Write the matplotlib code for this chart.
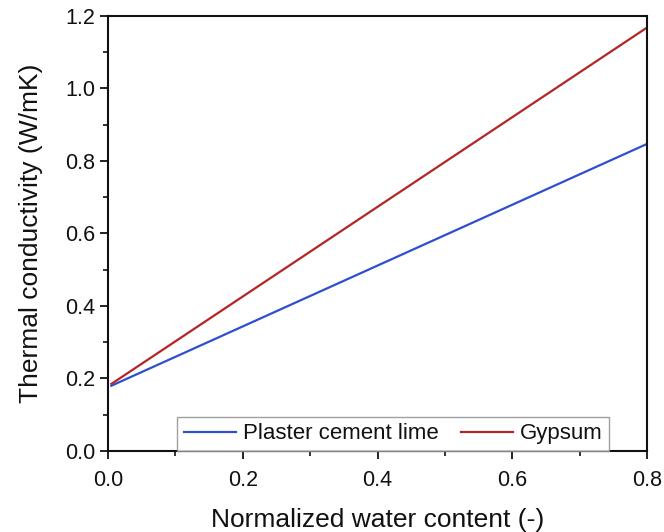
import matplotlib
matplotlib.use("Agg")
import matplotlib.pyplot as plt
from matplotlib.ticker import MultipleLocator

plt.rcParams['font.family'] = ['Liberation Sans', 'DejaVu Sans']

# Normalized water content and thermal conductivity (linear fits)
water_content = [0.005, 0.8]
plaster_cement_lime = [0.180, 0.847]
gypsum = [0.185, 1.168]

x_ticks = [0.0, 0.2, 0.4, 0.6, 0.8]
y_ticks = [0.0, 0.2, 0.4, 0.6, 0.8, 1.0, 1.2]

fig = plt.figure(figsize=(6.64, 5.32), dpi=100)
ax = fig.add_axes([0.1627, 0.1523, 0.8117, 0.8177])

ax.plot(water_content, plaster_cement_lime, color='#2f4fcf', lw=1.6,
        label='Plaster cement lime')
ax.plot(water_content, gypsum, color='#b52525', lw=1.6, label='Gypsum')

ax.set_xlim(0, 0.8)
ax.set_ylim(0, 1.2)
ax.set_xticks(x_ticks)
ax.set_yticks(y_ticks)
ax.set_xticklabels([f"{v:.1f}" for v in x_ticks])
ax.set_yticklabels([f"{v:.1f}" for v in y_ticks])
ax.xaxis.set_minor_locator(MultipleLocator(0.1))
ax.yaxis.set_minor_locator(MultipleLocator(0.1))
ax.tick_params(which='major', direction='out', length=6, width=1.3,
               labelsize=15.5, colors='#111111', pad=3)
ax.tick_params(axis='x', which='major', pad=8)
ax.tick_params(which='minor', direction='out', length=3.6, width=1.2,
               colors='#111111')
ax.tick_params(top=False, right=False)
for s in ax.spines.values():
    s.set_linewidth(1.5)
    s.set_color('#111111')

ax.set_xlabel('Normalized water content (-)', fontsize=19, labelpad=12,
              color='#111111')
ax.set_ylabel('Thermal conductivity (W/mK)', fontsize=19, labelpad=16,
              color='#111111')

leg = ax.legend(loc='lower left', bbox_to_anchor=(0.128, 0.0), ncol=2,
                fontsize=16, frameon=True, fancybox=False, borderaxespad=0,
                handlelength=2.35, handletextpad=0.3, columnspacing=1.0,
                borderpad=0.3)
leg.get_frame().set_edgecolor('#888888')
leg.get_frame().set_linewidth(1.0)
for t in leg.get_texts():
    t.set_color('#111111')

fig.savefig('out.png', dpi=100)
